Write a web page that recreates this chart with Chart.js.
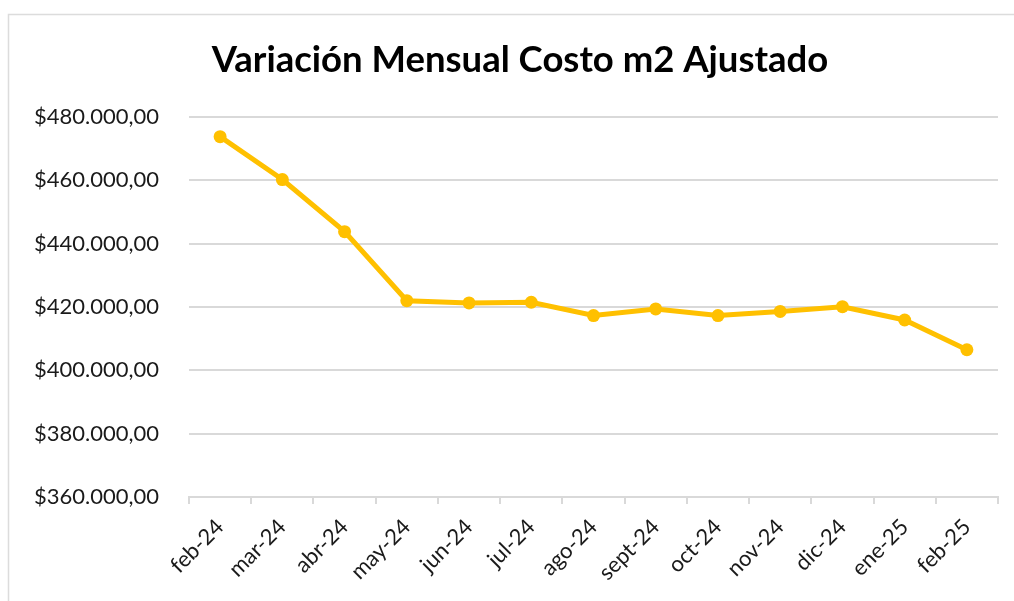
<!DOCTYPE html>
<html>
<head>
<meta charset="utf-8">
<script src="https://cdn.jsdelivr.net/npm/chart.js@4.4.1/dist/chart.umd.min.js"></script>
<style>
  html, body { margin: 0; padding: 0; background: #ffffff; }
  #wrap { width: 1014px; height: 601px; position: relative; }
</style>
</head>
<body>
<div id="wrap"><canvas id="costChart" width="1014" height="601"></canvas></div>
<script>
// Monthly adjusted cost per m2
const months = ["feb-24", "mar-24", "abr-24", "may-24", "jun-24", "jul-24", "ago-24",
                "sept-24", "oct-24", "nov-24", "dic-24", "ene-25", "feb-25"];
const costM2 = [473800, 460250, 443800, 422000, 421300, 421500, 417300,
                419400, 417300, 418600, 420100, 415900, 406500];

const chartTitle = "Variación Mensual Costo m2 Ajustado";
const lineColor = "#FFC000";
const gridColor = "#d9d9d9";
const fontFamily = "Lato, 'Open Sans', sans-serif";

// $480.000,00 style labels
function formatPesos(v) {
    const parts = Math.round(v).toString().replace(/\B(?=(\d{3})+(?!\d))/g, ".");
    return "$" + parts + ",00";
}

// Light frame around the chart (open to the right and bottom) plus the title,
// which is centred on the frame rather than on the plot
const framePlugin = {
    id: "frame",
    beforeDraw(chart) {
        const ctx = chart.ctx;
        ctx.save();
        ctx.fillStyle = "#ffffff";
        ctx.fillRect(0, 0, chart.width, chart.height);
        ctx.strokeStyle = "#dcdcdc";
        ctx.lineWidth = 1.5;
        ctx.beginPath();
        ctx.moveTo(8.5, chart.height);
        ctx.lineTo(8.5, 14.5);
        ctx.lineTo(chart.width, 14.5);
        ctx.stroke();

        ctx.fillStyle = "#000000";
        ctx.font = "bold 36.5px " + fontFamily;
        ctx.textAlign = "center";
        ctx.textBaseline = "middle";
        ctx.fillText(chartTitle, 520, 60);
        ctx.restore();
    }
};

const ctx = document.getElementById("costChart");

new Chart(ctx, {
    type: "line",
    data: {
        labels: months,
        datasets: [{
            data: costM2,
            borderColor: lineColor,
            backgroundColor: lineColor,
            borderWidth: 5,
            pointRadius: 6.5,
            pointBackgroundColor: lineColor,
            pointBorderColor: lineColor,
            pointBorderWidth: 0,
            tension: 0
        }]
    },
    options: {
        responsive: false,
        animation: false,
        layout: {
            padding: { left: 0, right: 16, top: 117, bottom: 0 }
        },
        plugins: {
            legend: { display: false },
            tooltip: { enabled: false },
            title: { display: false }
        },
        scales: {
            x: {
                offset: true,
                grid: {
                    display: true,
                    drawOnChartArea: false,
                    drawTicks: true,
                    tickLength: 7,
                    color: gridColor,
                    lineWidth: 2,
                    offset: true
                },
                border: { display: true, color: gridColor, width: 2 },
                ticks: {
                    color: "#1a1a1a",
                    font: { family: fontFamily, size: 22 },
                    maxRotation: 45,
                    minRotation: 45,
                    padding: 10,
                    autoSkip: false
                },
                afterFit(scale) {
                    scale.height = 104;
                }
            },
            y: {
                min: 360000,
                max: 480000,
                grid: {
                    color: gridColor,
                    lineWidth: 2,
                    drawTicks: false
                },
                border: { display: false },
                ticks: {
                    stepSize: 20000,
                    color: "#1a1a1a",
                    font: { family: fontFamily, size: 22 },
                    padding: 30,
                    callback: (v) => formatPesos(v)
                },
                afterFit(scale) {
                    scale.width = 189;
                }
            }
        }
    },
    plugins: [framePlugin]
});
</script>
</body>
</html>
